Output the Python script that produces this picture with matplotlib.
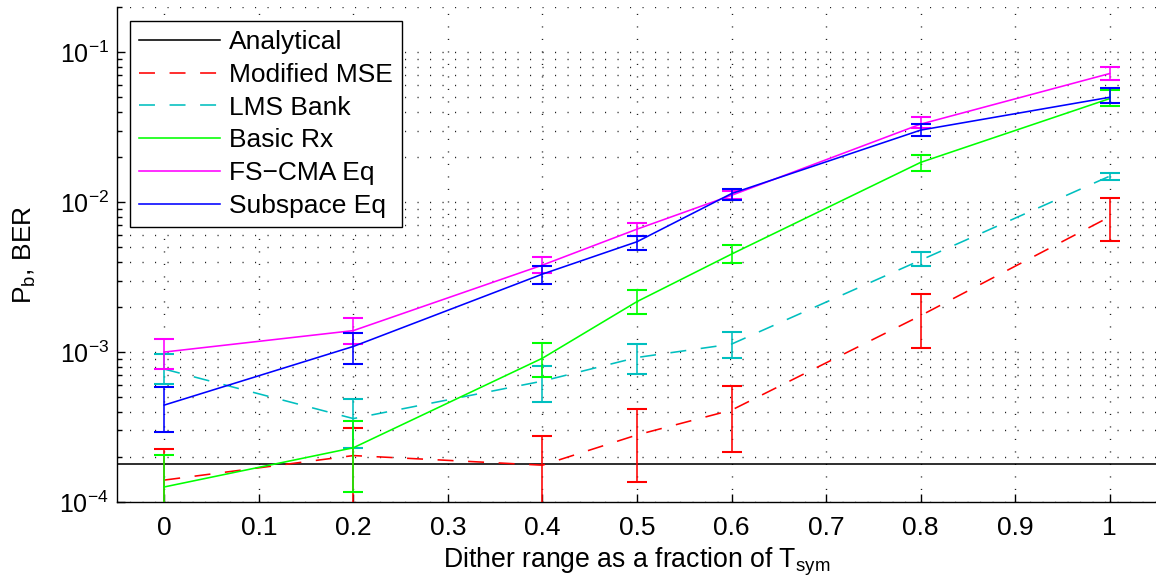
import matplotlib
matplotlib.use("Agg")
import matplotlib.pyplot as plt
import numpy as np
from matplotlib.ticker import LogLocator, NullFormatter, FixedLocator

plt.rcParams['font.family'] = ['Liberation Sans', 'DejaVu Sans']
plt.rcParams['mathtext.fontset'] = 'custom'
plt.rcParams['mathtext.rm'] = 'Liberation Sans'
plt.rcParams['mathtext.it'] = 'Liberation Sans:italic'
plt.rcParams['mathtext.default'] = 'regular'
plt.rcParams['lines.scale_dashes'] = False

# Dither range (fraction of symbol period)
dither = [0.0, 0.2, 0.4, 0.5, 0.6, 0.8, 1.0]

# Analytical bit error probability
analytical_pb = 1.78e-4

# Simulated BER: mean, lower and upper bounds
mse_mean = [1.40e-4, 2.04e-4, 1.76e-4, 2.80e-4, 4.10e-4, 1.75e-3, 7.98e-3]
mse_low = [5.0e-5, 5.0e-5, 5.0e-5, 1.35e-4, 2.15e-4, 1.07e-3, 5.52e-3]
mse_high = [2.25e-4, 3.13e-4, 2.75e-4, 4.19e-4, 5.93e-4, 2.44e-3, 1.06e-2]

lms_mean = [7.7e-4, 3.6e-4, 6.4e-4, 9.2e-4, 1.13e-3, 4.10e-3, 1.49e-2]
lms_low = [6.1e-4, 2.28e-4, 4.66e-4, 7.13e-4, 9.1e-4, 3.74e-3, 1.40e-2]
lms_high = [9.7e-4, 4.86e-4, 8.1e-4, 1.13e-3, 1.37e-3, 4.62e-3, 1.57e-2]

basic_mean = [1.26e-4, 2.30e-4, 9.1e-4, 2.17e-3, 4.5e-3, 1.84e-2, 4.9e-2]
basic_low = [5.0e-5, 1.16e-4, 6.85e-4, 1.79e-3, 3.9e-3, 1.61e-2, 4.37e-2]
basic_high = [2.06e-4, 3.47e-4, 1.15e-3, 2.58e-3, 5.14e-3, 2.06e-2, 5.58e-2]

cma_mean = [1.0e-3, 1.39e-3, 3.8e-3, 6.6e-3, 1.11e-2, 3.31e-2, 7.2e-2]
cma_low = [7.7e-4, 1.13e-3, 3.36e-3, 5.97e-3, 1.05e-2, 3.13e-2, 6.5e-2]
cma_high = [1.22e-3, 1.68e-3, 4.3e-3, 7.3e-3, 1.18e-2, 3.7e-2, 7.9e-2]

sub_mean = [4.43e-4, 1.09e-3, 3.31e-3, 5.44e-3, 1.14e-2, 3.02e-2, 5.0e-2]
sub_low = [2.93e-4, 8.3e-4, 2.85e-3, 4.8e-3, 1.03e-2, 2.75e-2, 4.55e-2]
sub_high = [5.87e-4, 1.33e-3, 3.73e-3, 5.97e-3, 1.22e-2, 3.3e-2, 5.75e-2]

x_ticks = [0, 0.1, 0.2, 0.3, 0.4, 0.5, 0.6, 0.7, 0.8, 0.9, 1.0]
x_tick_labels = ['0', '0.1', '0.2', '0.3', '0.4', '0.5', '0.6', '0.7', '0.8', '0.9', '1']

W, H = 1156, 586
fig = plt.figure(figsize=(W / 100, H / 100), dpi=100)
ax_left, ax_bottom = 117, 84
ax_w, ax_h = 1040, 495
ax = fig.add_axes([ax_left / W, ax_bottom / H, ax_w / W, ax_h / H])
ax.set_yscale('log')
ax.set_xlim(-0.05, 1.05)
ax.set_ylim(1e-4, 0.2)

dash = (11.5, 10.5)
lw = 1.15

ax.axhline(analytical_pb, color='black', lw=lw, label='Analytical', zorder=3)

series = [
    ('Modified MSE', mse_mean, mse_low, mse_high, '#ff0000', True),
    ('LMS Bank', lms_mean, lms_low, lms_high, '#00bfbf', True),
    ('Basic Rx', basic_mean, basic_low, basic_high, '#00ff00', False),
    ('FS\u2212CMA Eq', cma_mean, cma_low, cma_high, '#ff00ff', False),
    ('Subspace Eq', sub_mean, sub_low, sub_high, '#0000ff', False),
]

for i, (name, mean, low, high, col, dashed) in enumerate(series):
    m = np.array(mean)
    yerr = [m - np.array(low), np.array(high) - m]
    ax.errorbar(dither, m, yerr=yerr, fmt='none', ecolor=col, elinewidth=lw,
                capsize=7.2, capthick=lw * 1.3, zorder=4 + i)
    line, = ax.plot(dither, m, color=col, lw=lw, label=name, zorder=4 + i)
    if dashed:
        line.set_dashes(dash)

# Axes ticks and dotted grid
ax.xaxis.set_major_locator(FixedLocator(x_ticks))
ax.set_xticklabels(x_tick_labels)
ax.yaxis.set_major_locator(LogLocator(base=10, numticks=10))
ax.yaxis.set_minor_locator(LogLocator(base=10, subs=np.arange(2, 10), numticks=20))
ax.yaxis.set_minor_formatter(NullFormatter())

grid_kw = dict(color='#202020', lw=1.0, linestyle=(0, (0.8, 8.2)), dash_capstyle='butt')
ax.grid(True, axis='x', which='major', **grid_kw)
ax.grid(True, axis='y', which='both', **grid_kw)
ax.set_axisbelow(True)

ax.tick_params(axis='both', which='both', direction='in', top=False, right=False,
               color='black', width=1.0)
ax.tick_params(axis='both', which='major', length=6)
ax.tick_params(axis='y', which='minor', length=3.5)
ax.tick_params(axis='x', which='minor', bottom=False)
ax.tick_params(axis='x', labelsize=19, pad=10)
ax.tick_params(axis='y', labelsize=18, pad=6)

for s in ('top', 'right'):
    ax.spines[s].set_visible(False)
for s in ('left', 'bottom'):
    ax.spines[s].set_linewidth(1.0)
    ax.spines[s].set_color('black')

ax.set_xlabel('Dither range as a fraction of T$_{sym}$', fontsize=19.2, labelpad=4)
ax.set_ylabel('P$_b$, BER', fontsize=19, labelpad=15)

leg = ax.legend(loc='upper left', bbox_to_anchor=(130 / W, 1 - 21 / H),
                bbox_transform=fig.transFigure, borderaxespad=0, fontsize=19,
                frameon=True, fancybox=False, edgecolor='black', framealpha=1,
                handlelength=3.05, handletextpad=0.34, labelspacing=0.33,
                borderpad=0.35)
leg.get_frame().set_linewidth(1.0)
for h in leg.get_lines():
    h.set_linewidth(lw)

fig.savefig('out.png', dpi=100)
